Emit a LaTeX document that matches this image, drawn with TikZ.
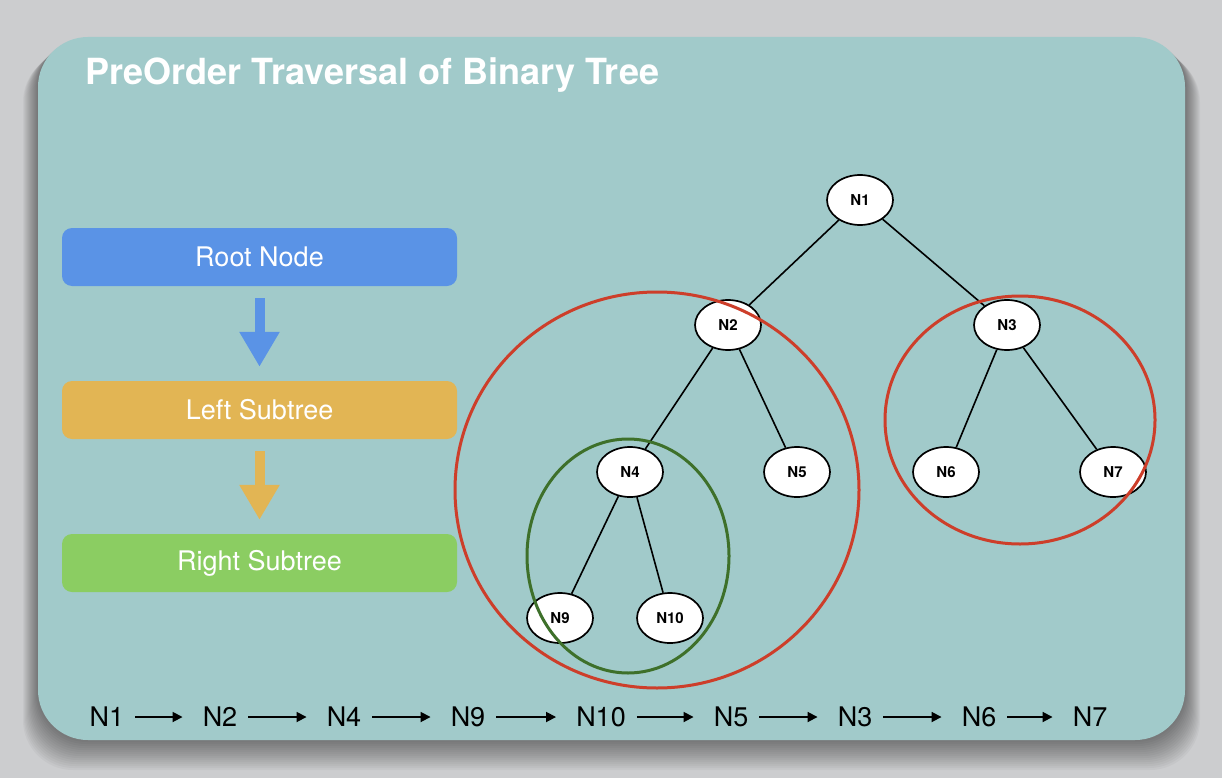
\documentclass[tikz,border=0pt]{standalone}
\usepackage{fontspec}
\setmainfont{TeX Gyre Heros}
\usepackage{tikz}
\usetikzlibrary{shapes.geometric,arrows.meta,positioning,calc}
\definecolor{cardteal}{RGB}{161,202,202}
\definecolor{rootblue}{RGB}{90,147,230}
\definecolor{leftorange}{RGB}{226,181,84}
\definecolor{rightgreen}{RGB}{139,205,98}
\definecolor{ringred}{RGB}{205,62,42}
\definecolor{ringgreen}{RGB}{62,112,42}
\definecolor{pagegray}{RGB}{204,205,207}

\begin{document}
\begin{tikzpicture}[x=1pt, y=-1pt,
    stepbox/.style={rounded corners=10pt, minimum width=395pt, minimum height=58pt, inner sep=0pt, text=white, font=\fontsize{27}{30}\selectfont},
    flow/.style={line width=10pt, shorten <=12pt, shorten >=14pt, -{Triangle[length=35pt, width=38pt]}},
    treenode/.style={ellipse, draw, line width=1.7pt, fill=white, minimum width=66pt, minimum height=50pt, inner sep=0pt, font=\fontsize{15}{18}\selectfont\bfseries},
    edge/.style={line width=1.6pt},
    ring/.style={line width=3pt},
    seq/.style={inner sep=0pt, font=\fontsize{27}{30}\selectfont},
    seqarrow/.style={line width=1.8pt, shorten <=11pt, shorten >=20pt, -{Triangle[length=10pt, width=10pt]}}
]
\useasboundingbox (0,0) rectangle (1222,778);

% BACKGROUND AND CARD
\fill[pagegray] (0,0) rectangle (1222,778);
\foreach \d in {2,4,...,30}
  \fill[black, opacity=0.03, rounded corners=50pt] (38-\d/2,37+\d/2) rectangle (1185+\d/2,740+\d);
\fill[cardteal, rounded corners=50pt] (38,37) rectangle (1185,740);

% TITLE
\node[anchor=west, text=white, font=\fontsize{36}{40}\selectfont\bfseries] (title) at (82,75) {PreOrder Traversal of Binary Tree};

% ORDER OF VISITS
\node[stepbox, fill=rootblue] (root) at (259.5,257) {Root Node};
\node[stepbox, fill=leftorange] (left) at (259.5,410) {Left Subtree};
\node[stepbox, fill=rightgreen] (right) at (259.5,563) {Right Subtree};
\draw[flow, rootblue] (root) -- (left);
\draw[flow, leftorange] (left) -- (right);

% TREE
\node[treenode] (n1) at (860,200) {N1};
\node[treenode] (n2) at (728,325) {N2};
\node[treenode] (n3) at (1007,325) {N3};
\node[treenode] (n4) at (630,472) {N4};
\node[treenode] (n5) at (797,472) {N5};
\node[treenode] (n6) at (946,472) {N6};
\node[treenode] (n7) at (1113,472) {N7};
\node[treenode] (n9) at (560,618) {N9};
\node[treenode] (n10) at (670,618) {N10};

\draw[edge] (n1) -- (n2);
\draw[edge] (n1) -- (n3);
\draw[edge] (n2) -- (n4);
\draw[edge] (n2) -- (n5);
\draw[edge] (n3) -- (n6);
\draw[edge] (n3) -- (n7);
\draw[edge] (n4) -- (n9);
\draw[edge] (n4) -- (n10);

% Subtree rings
\draw[ring, ringred] (657,490) ellipse [x radius=202, y radius=198];
\draw[ring, ringred] (1020,420) ellipse [x radius=135, y radius=124];
\draw[ring, ringgreen] (628,556) ellipse [x radius=101, y radius=117];

% RESULT
\node[seq] (s1) at (107,717) {N1};
\node[seq] (s2) at (220,717) {N2};
\node[seq] (s3) at (344,717) {N4};
\node[seq] (s4) at (468,717) {N9};
\node[seq] (s5) at (601,717) {N10};
\node[seq] (s6) at (731,717) {N5};
\node[seq] (s7) at (855,717) {N3};
\node[seq] (s8) at (979,717) {N6};
\node[seq] (s9) at (1090,717) {N7};
\foreach \a/\b in {s1/s2,s2/s3,s3/s4,s4/s5,s5/s6,s6/s7,s7/s8,s8/s9}
  \draw[seqarrow] (\a.east) -- (\b.west);

\end{tikzpicture}
\end{document}
